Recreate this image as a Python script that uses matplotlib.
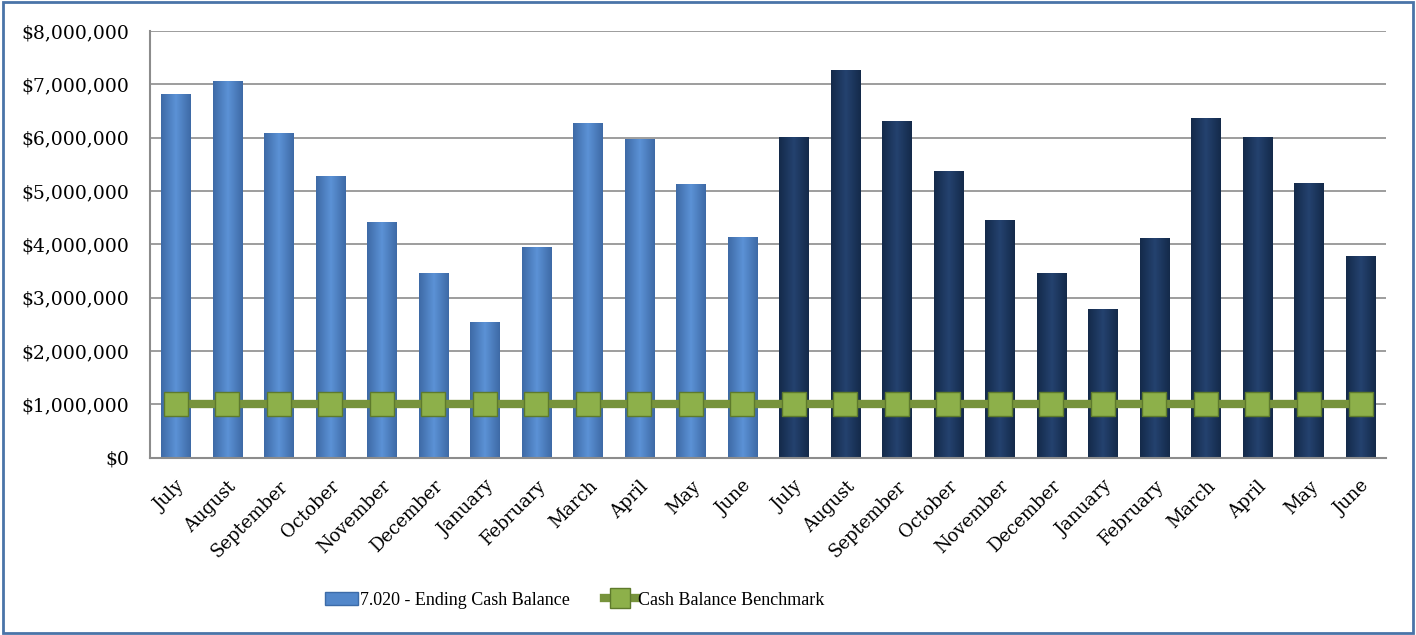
import numpy as np
import matplotlib.pyplot as plt
from matplotlib.patches import Rectangle
from matplotlib.lines import Line2D
from matplotlib.ticker import FuncFormatter
from matplotlib.colors import LinearSegmentedColormap

months = ['July', 'August', 'September', 'October', 'November', 'December',
          'January', 'February', 'March', 'April', 'May', 'June']
labels = months + months
year1 = [6820000, 7060000, 6090000, 5280000, 4420000, 3470000,
         2550000, 3950000, 6270000, 5970000, 5130000, 4140000]
year2 = [6010000, 7270000, 6310000, 5370000, 4460000, 3460000,
         2790000, 4120000, 6380000, 6020000, 5150000, 3780000]
benchmark = [1000000] * 24

plt.rcParams['font.family'] = ['DejaVu Serif']

fig = plt.figure(figsize=(14.16, 6.35), dpi=100)
ax = fig.add_axes([0.106, 0.279, 0.873, 0.672])

x = np.arange(24)
vals = year1 + year2
cols = ['#5287CA'] * 12 + ['#1F3B66'] * 12
bars = ax.bar(x, vals, width=0.57, color=cols, edgecolor='none', zorder=2)

# horizontal shading on the bars
light = LinearSegmentedColormap.from_list('l', ['#3E6AA6', '#5C92D6', '#3E6AA6'])
dark = LinearSegmentedColormap.from_list('d', ['#142A4A', '#24426F', '#142A4A'])
grad = np.linspace(0, 1, 64).reshape(1, -1)
for i, b in enumerate(bars):
    cm = light if i < 12 else dark
    im = ax.imshow(grad, cmap=cm, aspect='auto', zorder=2.1,
                   extent=(b.get_x(), b.get_x() + b.get_width(), 0, b.get_height()))
    im.set_clip_path(b)

ax.plot(x, benchmark, color='#77933C', lw=6, zorder=3, solid_capstyle='butt')
ax.plot(x, benchmark, ls='none', marker='s', ms=17, mfc='#8DB04A',
        mec='#5E7A2C', mew=1, zorder=4)

ax.set_xlim(-0.5, 23.5)
ax.set_ylim(0, 8000000)
ax.set_yticks(np.arange(0, 8000001, 1000000))
ax.yaxis.set_major_formatter(FuncFormatter(lambda v, p: '${:,.0f}'.format(v)))
ax.grid(axis='y', color='#8C8C8C', lw=1.2, zorder=0)
ax.set_axisbelow(True)
ax.set_xticks(x)
ax.set_xticklabels(labels, rotation=45, ha='right', rotation_mode='anchor')
ax.tick_params(axis='x', length=0, labelsize=13, pad=14)
ax.tick_params(axis='y', length=0, labelsize=13.5, pad=15)
for s in ['top', 'right']:
    ax.spines[s].set_visible(False)
for s in ['left', 'bottom']:
    ax.spines[s].set_color('#8C8C8C')
    ax.spines[s].set_linewidth(1.5)

handles = [Rectangle((0, 0), 1, 1, facecolor='#5287CA', edgecolor='#3C6BA8'),
           Line2D([], [], color='#77933C', lw=6, marker='s', ms=14,
                  mfc='#8DB04A', mec='#5E7A2C')]
fig.legend(handles, ['7.020 - Ending Cash Balance', 'Cash Balance Benchmark'],
           loc='center', bbox_to_anchor=(0.406, 0.055), ncol=2, frameon=False,
           prop={'family': 'Liberation Serif', 'size': 13},
           handlelength=1.8, handletextpad=0.1, columnspacing=1.9)

fig.patches.append(Rectangle((0.002, 0.003), 0.996, 0.994, transform=fig.transFigure,
                             fill=False, edgecolor='#4A74A8', lw=2))

fig.savefig('out.png', dpi=100)
